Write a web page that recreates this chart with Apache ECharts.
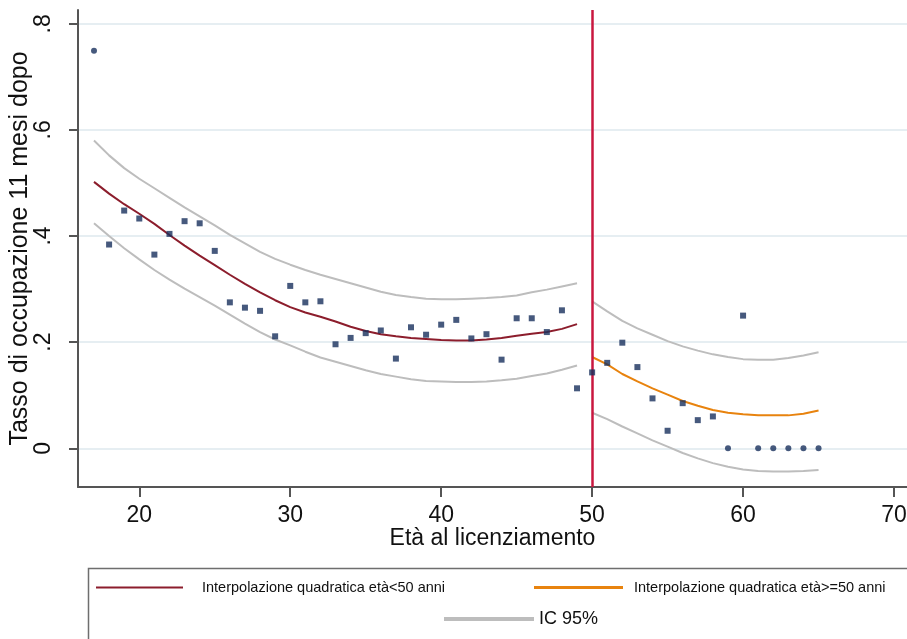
<!DOCTYPE html>
<html lang="it">
<head>
<meta charset="UTF-8">
<title>Tasso di occupazione per età</title>
<style>
  html, body { margin: 0; padding: 0; background: #fff; }
  #chart { width: 907px; height: 639px; }
</style>
</head>
<body>
<div id="chart"></div>
<script src="https://cdn.jsdelivr.net/npm/echarts@6/dist/echarts.min.js"></script>
<script>
  // punti osservati (quadrati)
  const sqAges = [18, 19, 20, 21, 22, 23, 24, 25, 26, 27, 28, 29, 30, 31, 32, 33, 34, 35, 36, 37, 38, 39,
    40, 41, 42, 43, 44, 45, 46, 47, 48, 49, 50, 51, 52, 53, 54, 55, 56, 57, 58, 60];
  const sqVals = [.384, .448, .433, .365, .404, .428, .424, .372, .275, .265, .259, .211, .306, .275, .277, .196, .208, .217, .222, .169, .228, .214,
    .233, .242, .207, .215, .167, .245, .245, .219, .26, .113, .143, .161, .199, .153, .094, .033, .085, .053, .060, .25];
  // punti osservati (cerchi)
  const dotAges = [17, 59, 61, 62, 63, 64, 65];
  const dotVals = [.749, 0, 0, 0, 0, 0, 0];

  // interpolazione età < 50
  const ageLt = [17, 18, 19, 20, 21, 22, 23, 24, 25, 26, 27, 28, 29, 30, 31, 32, 33,
    34, 35, 36, 37, 38, 39, 40, 41, 42, 43, 44, 45, 46, 47, 48, 49];
  const fitLt = [.502, .480, .460, .442, .423, .402, .382, .363, .345, .327, .310, .294, .279, .266, .256, .248, .239,
    .229, .221, .215, .211, .208, .206, .204, .203, .203, .205, .208, .212, .216, .219, .225, .234];
  const ciLtUp = [.580, .552, .528, .508, .490, .472, .454, .437, .420, .402, .386, .370, .357, .346, .336, .327, .319,
    .311, .303, .295, .289, .285, .282, .281, .281, .282, .283, .285, .288, .294, .299, .305, .311];
  const ciLtLo = [.424, .400, .377, .356, .336, .318, .301, .285, .269, .252, .235, .219, .205, .194, .182, .171, .163,
    .155, .147, .140, .135, .130, .127, .126, .125, .125, .126, .128, .131, .136, .141, .148, .156];

  // interpolazione età >= 50
  const ageGe = [50, 51, 52, 53, 54, 55, 56, 57, 58, 59, 60, 61, 62, 63, 64, 65];
  const fitGe = [.172, .158, .140, .126, .113, .101, .089, .080, .072, .067, .064, .062, .062, .062, .065, .071];
  const ciGeUp = [.277, .258, .240, .226, .214, .202, .192, .184, .177, .172, .168, .167, .167, .170, .175, .181];
  const ciGeLo = [.067, .055, .041, .028, .015, .003, -.009, -.019, -.028, -.035, -.040, -.043, -.044, -.044, -.043, -.041];

  const xTicks = [20, 30, 40, 50, 60, 70];
  const yTicks = [0, .2, .4, .6, .8];
  const cutoff = 50;

  const nameLt = 'Interpolazione quadratica età<50 anni';
  const nameGe = 'Interpolazione quadratica età>=50 anni';
  const nameCi = 'IC 95%';

  const font = '"Liberation Sans", Arial, sans-serif';
  const navy = '#182f5c';

  function pairs(xs, ys) {
    return xs.map((x, i) => [x, ys[i]]);
  }

  function curve(name, xs, ys, color, width, z) {
    return {
      type: 'line', name: name, data: pairs(xs, ys),
      symbol: 'none', showSymbol: false, smooth: false, silent: true,
      lineStyle: { color: color, width: width }, itemStyle: { color: color }, z: z
    };
  }

  const chart = echarts.init(document.getElementById('chart'));

  const fitGeSeries = curve(nameGe, ageGe, fitGe, '#e8830e', 2, 4);
  fitGeSeries.markLine = {
    symbol: 'none', silent: true, label: { show: false },
    lineStyle: { color: '#c9173f', width: 2.5, type: 'solid' },
    data: [{ xAxis: cutoff }]
  };

  chart.setOption({
    backgroundColor: '#fff',
    animation: false,
    grid: { left: 78, right: 0, top: 10, bottom: 152, containLabel: false, outerBoundsMode: 'none' },
    xAxis: {
      type: 'value', min: 15.94, max: 70.86,
      name: 'Età al licenziamento', nameLocation: 'middle', nameGap: 40, nameMoveOverlap: false,
      nameTextStyle: { fontFamily: font, fontSize: 23, color: '#111' },
      axisLine: { onZero: false, lineStyle: { color: '#555', width: 2 } },
      axisTick: { customValues: xTicks, length: 10, lineStyle: { color: '#555', width: 2 } },
      axisLabel: { customValues: xTicks, margin: 17, fontFamily: font, fontSize: 23, color: '#111' },
      splitLine: { show: false }
    },
    yAxis: {
      type: 'value', min: -0.073, max: 0.826,
      name: 'Tasso di occupazione 11 mesi dopo', nameLocation: 'middle', nameGap: 45, nameMoveOverlap: false,
      nameTextStyle: { fontFamily: font, fontSize: 25, color: '#111' },
      axisLine: { show: true, onZero: false, lineStyle: { color: '#555', width: 2 } },
      axisTick: { show: true, customValues: yTicks, length: 9, lineStyle: { color: '#555', width: 2 } },
      axisLabel: {
        customValues: yTicks, rotate: 90, margin: 23, fontFamily: font, fontSize: 23, color: '#111',
        formatter: v => (v === 0 ? '0' : String(+v.toFixed(1)).replace('0.', '.'))
      },
      splitLine: { show: true, lineStyle: { color: '#e6eef2', width: 2 } }
    },
    legend: [
      {
        data: [nameLt], left: 96, top: 580, padding: 0, icon: 'rect', itemWidth: 87, itemHeight: 2,
        selectedMode: false,
        textStyle: { fontFamily: font, fontSize: 14.5, color: '#111', padding: [0, 0, 0, 14] }
      },
      {
        data: [nameGe], left: 534, top: 580, padding: 0, icon: 'rect', itemWidth: 89, itemHeight: 3,
        selectedMode: false,
        textStyle: { fontFamily: font, fontSize: 14.5, color: '#111', padding: [0, 0, 0, 6] }
      },
      {
        data: [nameCi], left: 444, top: 610, padding: 0, icon: 'rect', itemWidth: 90, itemHeight: 4,
        selectedMode: false,
        textStyle: { fontFamily: font, fontSize: 18, color: '#111' }
      }
    ],
    graphic: [{
      type: 'rect', left: 86, top: 566, silent: true,
      shape: { width: 840, height: 100 },
      style: { fill: 'none', stroke: '#6e6e6e', lineWidth: 1.5 }
    }],
    series: [
      curve(nameCi, ageLt, ciLtUp, '#bdbdbd', 2, 2),
      curve(nameCi, ageLt, ciLtLo, '#bdbdbd', 2, 2),
      curve(nameCi, ageGe, ciGeUp, '#bdbdbd', 2, 2),
      curve(nameCi, ageGe, ciGeLo, '#bdbdbd', 2, 2),
      curve(nameLt, ageLt, fitLt, '#8c1d2c', 2, 3),
      fitGeSeries,
      {
        type: 'scatter', name: 'osservati', data: pairs(sqAges, sqVals), silent: true,
        symbol: 'rect', symbolSize: 6, itemStyle: { color: navy }, z: 6
      },
      {
        type: 'scatter', name: 'osservati zero', data: pairs(dotAges, dotVals), silent: true,
        symbol: 'circle', symbolSize: 6, itemStyle: { color: navy }, z: 6
      }
    ]
  });
</script>
</body>
</html>
